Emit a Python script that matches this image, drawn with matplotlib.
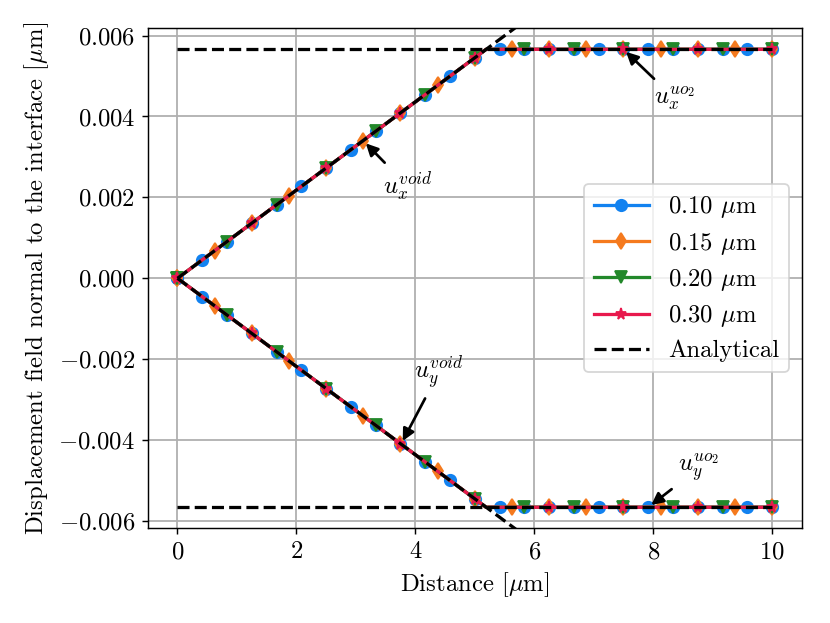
import matplotlib
matplotlib.use("Agg")
import matplotlib.pyplot as plt

plt.rcParams['font.family'] = 'serif'
plt.rcParams['font.serif'] = ['cmr10']
plt.rcParams['mathtext.fontset'] = 'cm'
plt.rcParams['axes.formatter.use_mathtext'] = True
plt.rcParams['font.size'] = 13.7

# ---- data ----
x_010 = [0, 0.417, 0.833, 1.25, 1.667, 2.083, 2.5, 2.917, 3.333, 3.75, 4.167, 4.583, 5.0, 5.19,
         5.417, 5.833, 6.25, 6.667, 7.083, 7.5, 7.917, 8.333, 8.75, 9.167, 9.583, 10.0]
ux_010 = [0, 0.000454, 0.000908, 0.001363, 0.001817, 0.002271, 0.002725, 0.003179, 0.003633,
          0.004088, 0.004542, 0.004996, 0.00545, 0.00566,
          0.00566, 0.00566, 0.00566, 0.00566, 0.00566, 0.00566, 0.00566, 0.00566, 0.00566,
          0.00566, 0.00566, 0.00566]
uy_010 = [0, -0.000454, -0.000908, -0.001363, -0.001817, -0.002271, -0.002725, -0.003179, -0.003633,
          -0.004088, -0.004542, -0.004996, -0.00545, -0.00566,
          -0.00566, -0.00566, -0.00566, -0.00566, -0.00566, -0.00566, -0.00566, -0.00566, -0.00566,
          -0.00566, -0.00566, -0.00566]

x_015 = [0, 0.625, 1.25, 1.875, 2.5, 3.125, 3.75, 4.375, 5.0, 5.19,
         5.625, 6.25, 6.875, 7.5, 8.125, 8.75, 9.375, 10.0]
ux_015 = [0, 0.000681, 0.001363, 0.002044, 0.002725, 0.003406, 0.004088, 0.004769, 0.00545, 0.00566,
          0.00566, 0.00566, 0.00566, 0.00566, 0.00566, 0.00566, 0.00566, 0.00566]
uy_015 = [0, -0.000681, -0.001363, -0.002044, -0.002725, -0.003406, -0.004088, -0.004769, -0.00545, -0.00566,
          -0.00566, -0.00566, -0.00566, -0.00566, -0.00566, -0.00566, -0.00566, -0.00566]

x_020 = [0, 0.833, 1.667, 2.5, 3.333, 4.167, 5.0, 5.19,
         5.833, 6.667, 7.5, 8.333, 9.167, 10.0]
ux_020 = [0, 0.000908, 0.001817, 0.002725, 0.003633, 0.004542, 0.00545, 0.00566,
          0.00566, 0.00566, 0.00566, 0.00566, 0.00566, 0.00566]
uy_020 = [0, -0.000908, -0.001817, -0.002725, -0.003633, -0.004542, -0.00545, -0.00566,
          -0.00566, -0.00566, -0.00566, -0.00566, -0.00566, -0.00566]

x_030 = [0, 1.25, 2.5, 3.75, 5.0, 5.19, 6.25, 7.5, 8.75, 10.0]
ux_030 = [0, 0.001363, 0.002725, 0.004088, 0.00545, 0.00566, 0.00566, 0.00566, 0.00566, 0.00566]
uy_030 = [0, -0.001363, -0.002725, -0.004088, -0.00545, -0.00566, -0.00566, -0.00566, -0.00566, -0.00566]

x_ana_lin = [0, 6.0]
ux_ana_lin = [0, 0.00654]
uy_ana_lin = [0, -0.00654]
x_ana_flat = [0, 10.0]
ux_ana_flat = [0.00566, 0.00566]
uy_ana_flat = [-0.00566, -0.00566]

labels = ['0.10 $\\mu$m', '0.15 $\\mu$m', '0.20 $\\mu$m', '0.30 $\\mu$m']
colors = ['#1282f0', '#f57a1e', '#22882a', '#e8194d']
markers = ['o', 'd', 'v', '*']
KINK_X = 5.19

fig = plt.figure(figsize=(830 / 130, 623 / 130), dpi=130)
ax = fig.add_axes([0.178, 0.152, 0.788, 0.8026])

series = [(x_010, ux_010, uy_010), (x_015, ux_015, uy_015),
          (x_020, ux_020, uy_020), (x_030, ux_030, uy_030)]
for (xs, uxs, uys), lab, c, m in zip(series, labels, colors, markers):
    every = [i for i, v in enumerate(xs) if v != KINK_X]
    ax.plot(xs, uxs, color=c, marker=m, markevery=every, lw=1.8, ms=6.3, label=lab)
    ax.plot(xs, uys, color=c, marker=m, markevery=every, lw=1.8, ms=6.3)

ax.plot(x_ana_lin, ux_ana_lin, 'k--', lw=1.8, label='Analytical')
ax.plot(x_ana_lin, uy_ana_lin, 'k--', lw=1.8)
ax.plot(x_ana_flat, ux_ana_flat, 'k--', lw=1.8)
ax.plot(x_ana_flat, uy_ana_flat, 'k--', lw=1.8)

ax.set_xlim(-0.5, 10.5)
ax.set_ylim(-0.00618, 0.00618)
ax.grid(True, color='#b0b0b0', lw=1.0)
ax.set_axisbelow(True)
ax.set_xlabel('Distance [$\\mu$m]')
ax.set_ylabel('Displacement field normal to the interface [$\\mu$m]')

ap = dict(arrowstyle='-|>', color='black', lw=1.5)
ax.annotate('$u_x^{void}$', xy=(3.125, 0.0034), xytext=(3.45, 0.0021), arrowprops=ap)
ax.annotate('$u_y^{void}$', xy=(3.76, -0.0041), xytext=(3.98, -0.00247), arrowprops=ap)
ax.annotate('$u_x^{uo_2}$', xy=(7.5, 0.00566), xytext=(8.02, 0.0043), arrowprops=ap)
ax.annotate('$u_y^{uo_2}$', xy=(7.92, -0.00566), xytext=(8.42, -0.00478), arrowprops=ap)

ax.legend(loc='center right', labelspacing=0.42, handlelength=2.2)

fig.savefig('out.png', dpi=130)
